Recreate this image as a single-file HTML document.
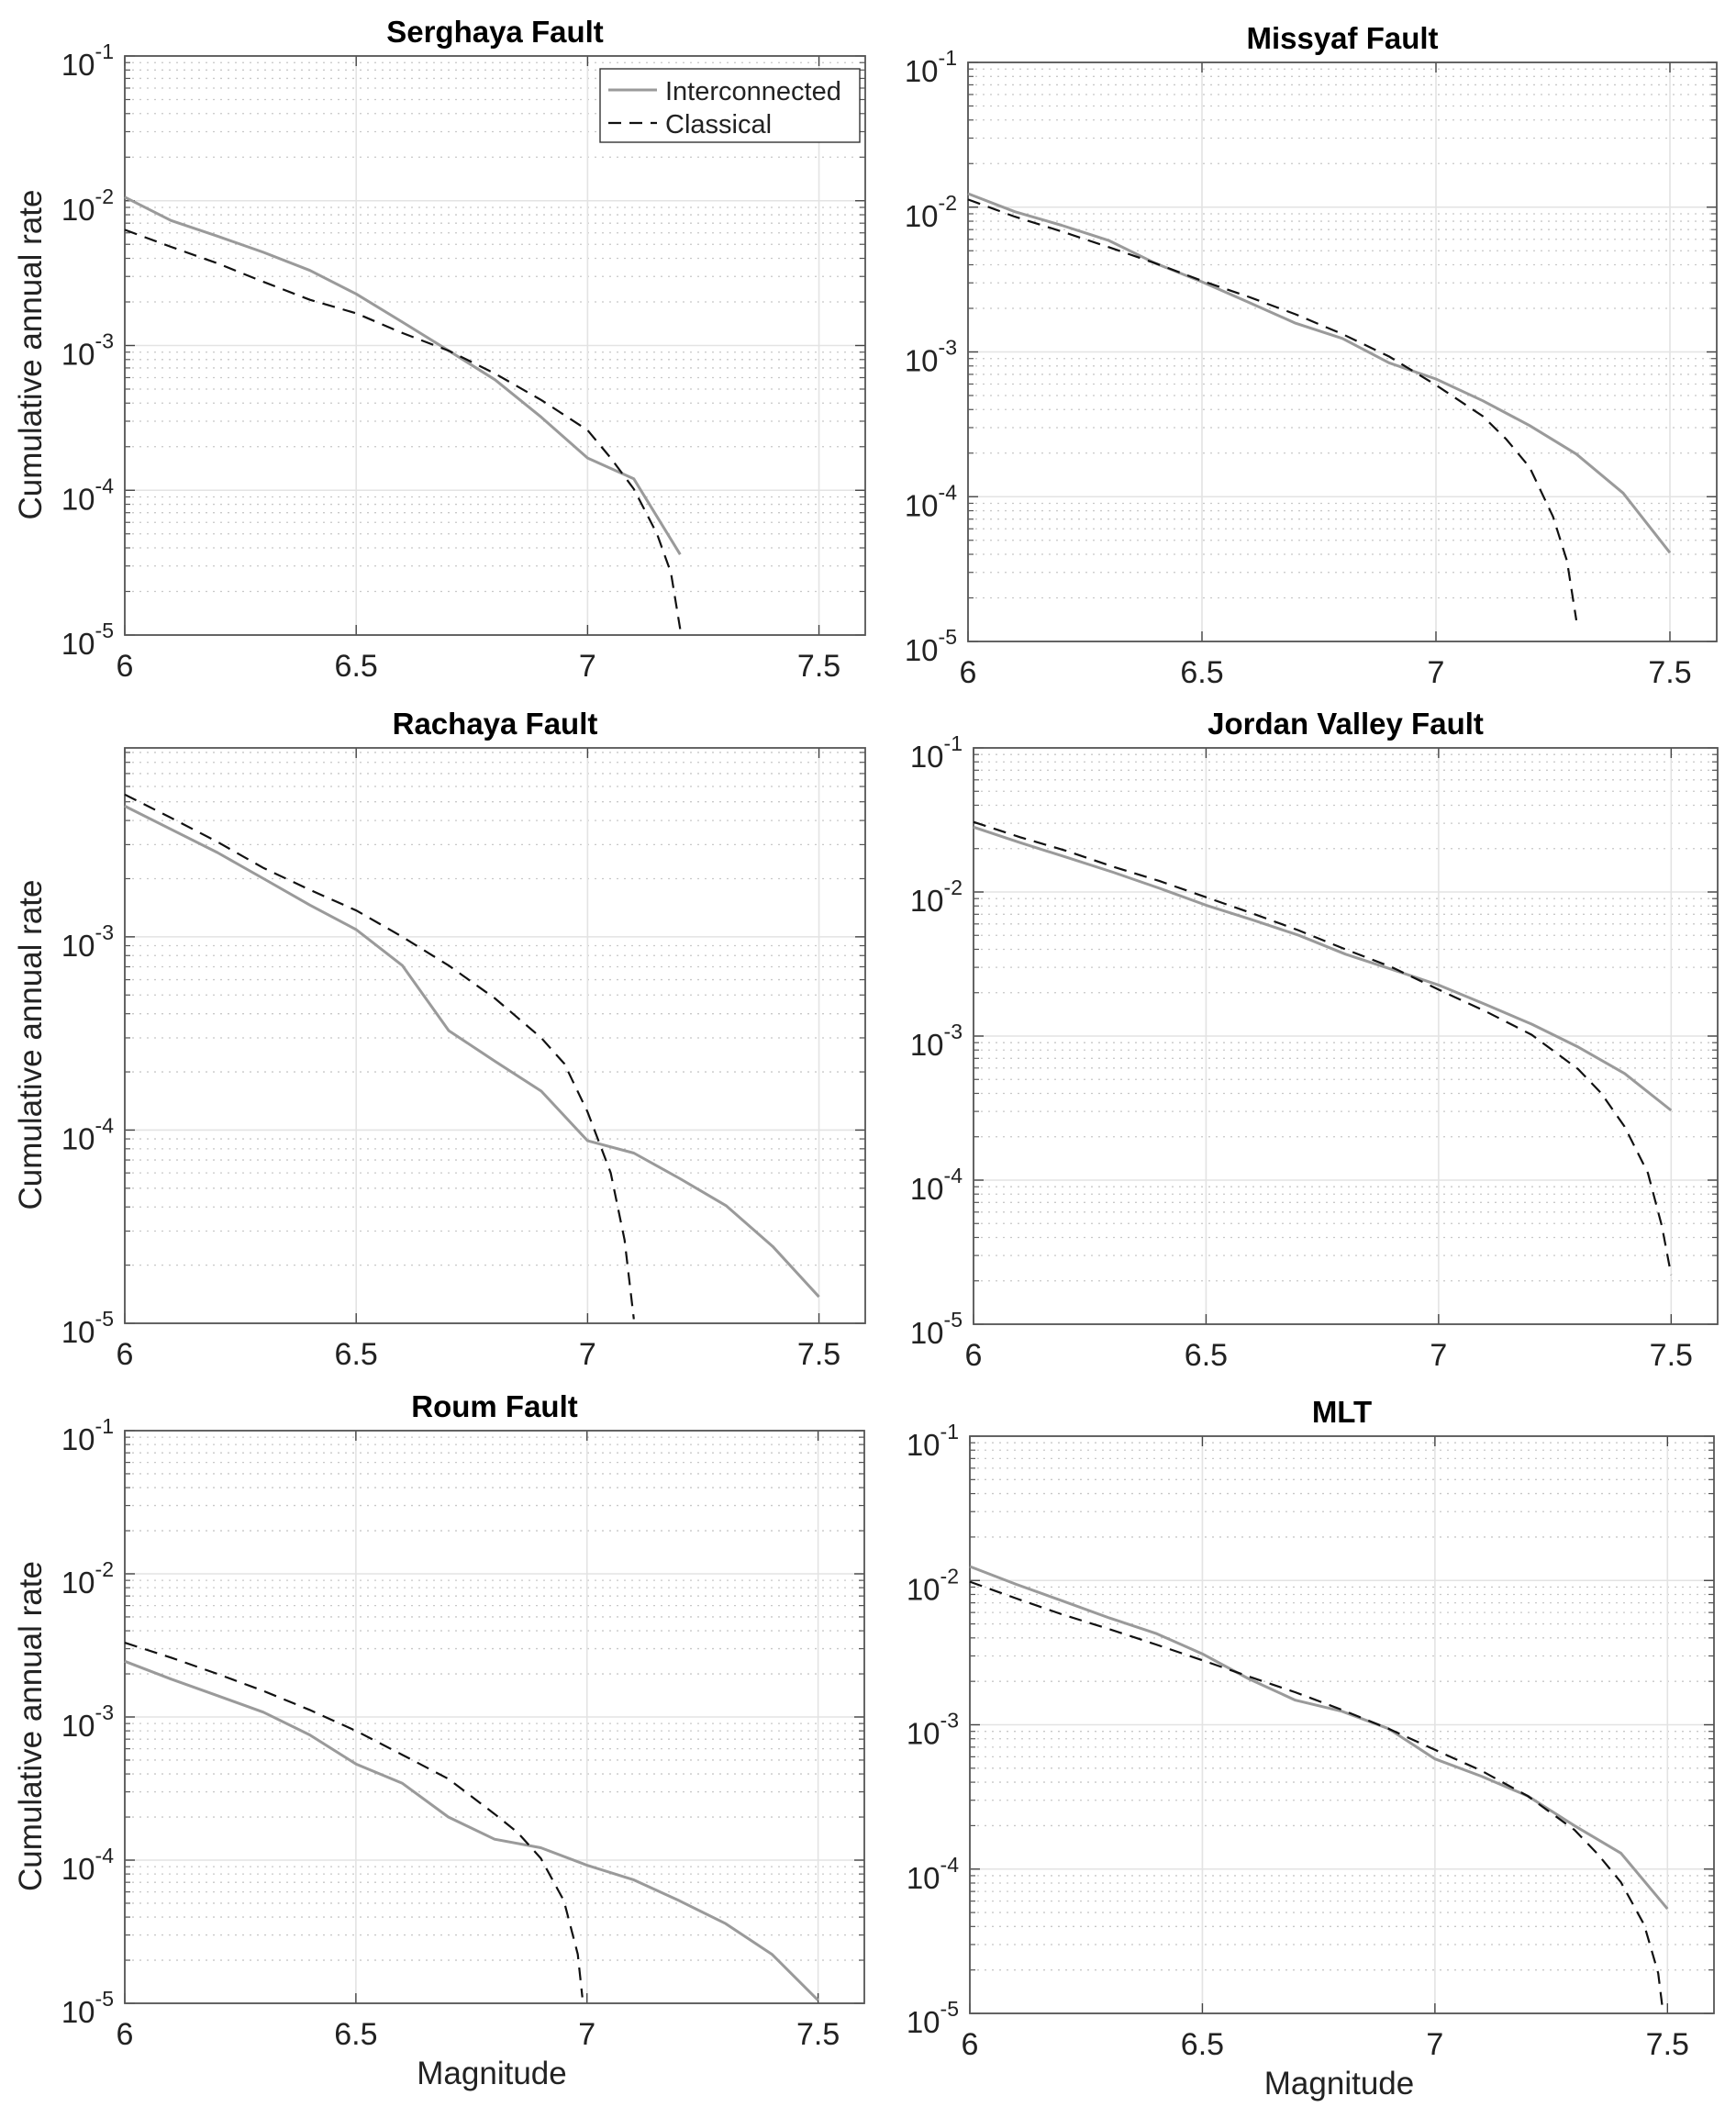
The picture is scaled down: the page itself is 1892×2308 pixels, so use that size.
<!DOCTYPE html>
<html><head><meta charset="utf-8">
<style>
html,body{margin:0;padding:0;background:#fff;}
svg{display:block;font-family:"Liberation Sans",Arial,sans-serif;}
</style></head>
<body>
<svg id="fig" width="1892" height="2308" viewBox="0 0 1892 2308" xmlns="http://www.w3.org/2000/svg"></svg>
<script>
// ---- data ----
const serghayaIntM = [6,6.1,6.2,6.3,6.4,6.5,6.6,6.7,6.8,6.9,7.0,7.1,7.2];
const serghayaIntR = [1.06e-2,7.3e-3,5.7e-3,4.4e-3,3.3e-3,2.27e-3,1.45e-3,9.2e-4,5.8e-4,3.2e-4,1.67e-4,1.2e-4,3.6e-5];
const serghayaClsM = [6,6.1,6.2,6.3,6.4,6.5,6.6,6.7,6.8,6.9,7.0,7.05,7.1,7.15,7.18,7.2];
const serghayaClsR = [6.3e-3,4.8e-3,3.7e-3,2.75e-3,2.07e-3,1.67e-3,1.22e-3,9.2e-4,6.4e-4,4.2e-4,2.6e-4,1.67e-4,1.02e-4,5e-5,2.7e-5,1.1e-5];

const missyafIntM = [6,6.1,6.2,6.3,6.4,6.5,6.6,6.7,6.8,6.9,7.0,7.1,7.2,7.3,7.4,7.5];
const missyafIntR = [1.24e-2,9.3e-3,7.5e-3,5.9e-3,4.1e-3,3.05e-3,2.2e-3,1.58e-3,1.24e-3,8.4e-4,6.5e-4,4.6e-4,3.1e-4,1.97e-4,1.06e-4,4.1e-5];
const missyafClsM = [6,6.1,6.2,6.3,6.4,6.5,6.6,6.7,6.8,6.9,7.0,7.1,7.15,7.2,7.25,7.28,7.3];
const missyafClsR = [1.13e-2,8.6e-3,6.8e-3,5.3e-3,4.1e-3,3.1e-3,2.4e-3,1.82e-3,1.33e-3,9.3e-4,5.9e-4,3.6e-4,2.5e-4,1.6e-4,7.3e-5,3.6e-5,1.4e-5];

const rachayaIntM = [6,6.1,6.2,6.3,6.4,6.5,6.6,6.7,6.8,6.9,7.0,7.1,7.2,7.3,7.4,7.5];
const rachayaIntR = [4.75e-3,3.6e-3,2.73e-3,2.0e-3,1.46e-3,1.09e-3,7.1e-4,3.27e-4,2.27e-4,1.59e-4,8.8e-5,7.6e-5,5.6e-5,4.05e-5,2.5e-5,1.37e-5];
const rachayaClsM = [6,6.1,6.2,6.3,6.4,6.5,6.6,6.7,6.8,6.9,6.95,7.0,7.05,7.08,7.1];
const rachayaClsR = [5.45e-3,4.13e-3,3.1e-3,2.27e-3,1.75e-3,1.37e-3,1.0e-3,7.1e-4,4.8e-4,3.0e-4,2.2e-4,1.24e-4,6e-5,2.7e-5,1.05e-5];

const jordanIntM = [6,6.1,6.2,6.3,6.4,6.5,6.6,6.7,6.8,6.9,7.0,7.1,7.2,7.3,7.4,7.5];
const jordanIntR = [2.82e-2,2.2e-2,1.74e-2,1.37e-2,1.06e-2,8.1e-3,6.4e-3,5.0e-3,3.7e-3,2.9e-3,2.26e-3,1.66e-3,1.21e-3,8.4e-4,5.5e-4,3.05e-4];
const jordanClsM = [6,6.1,6.2,6.3,6.4,6.5,6.6,6.7,6.8,6.9,7.0,7.1,7.2,7.3,7.35,7.4,7.45,7.48,7.5];
const jordanClsR = [3.06e-2,2.4e-2,1.93e-2,1.5e-2,1.19e-2,9.2e-3,7.1e-3,5.4e-3,4.0e-3,3.0e-3,2.1e-3,1.49e-3,1.02e-3,5.9e-4,4.0e-4,2.35e-4,1.12e-4,4.8e-5,2.2e-5];

const roumIntM = [6,6.1,6.2,6.3,6.4,6.5,6.6,6.7,6.8,6.9,7.0,7.1,7.2,7.3,7.4,7.5];
const roumIntR = [2.45e-3,1.84e-3,1.41e-3,1.08e-3,7.5e-4,4.7e-4,3.45e-4,2.0e-4,1.4e-4,1.22e-4,9.2e-5,7.3e-5,5.2e-5,3.6e-5,2.2e-5,1.05e-5];
const roumClsM = [6,6.1,6.2,6.3,6.4,6.5,6.6,6.7,6.8,6.85,6.9,6.95,6.98,6.99];
const roumClsR = [3.3e-3,2.6e-3,2.0e-3,1.52e-3,1.12e-3,8e-4,5.45e-4,3.7e-4,2.1e-4,1.56e-4,1.03e-4,5.2e-5,2.2e-5,1.1e-5];

const mltIntM = [6,6.1,6.2,6.3,6.4,6.5,6.6,6.7,6.8,6.9,7.0,7.1,7.2,7.3,7.4,7.5];
const mltIntR = [1.25e-2,9.4e-3,7.2e-3,5.5e-3,4.3e-3,3.1e-3,2.08e-3,1.48e-3,1.24e-3,9.4e-4,5.8e-4,4.4e-4,3.2e-4,2.0e-4,1.29e-4,5.3e-5];
const mltClsM = [6,6.1,6.2,6.3,6.4,6.5,6.6,6.7,6.8,6.9,7.0,7.1,7.2,7.3,7.35,7.4,7.45,7.48,7.49];
const mltClsR = [9.8e-3,7.5e-3,5.8e-3,4.6e-3,3.6e-3,2.8e-3,2.16e-3,1.68e-3,1.27e-3,9.4e-4,6.7e-4,4.8e-4,3.2e-4,1.87e-4,1.27e-4,8.1e-5,4.1e-5,1.9e-5,1.05e-5];

const xTicks = [6, 6.5, 7, 7.5];
const xTickLabels = ["6", "6.5", "7", "7.5"];
const legendLabels = ["Interconnected", "Classical"];

const panels = [
 {name:"serghaya", title:"Serghaya Fault", L:136,R:943,T:61,B:692, ymax:1e-1, iM:serghayaIntM,iR:serghayaIntR,cM:serghayaClsM,cR:serghayaClsR, ylab:true, xlab:false, legend:true},
 {name:"missyaf", title:"Missyaf Fault", L:1055,R:1871,T:68,B:699, ymax:1e-1, iM:missyafIntM,iR:missyafIntR,cM:missyafClsM,cR:missyafClsR},
 {name:"rachaya", title:"Rachaya Fault", L:136,R:943,T:815,B:1442, ymax:9.5e-3, iM:rachayaIntM,iR:rachayaIntR,cM:rachayaClsM,cR:rachayaClsR, ylab:true},
 {name:"jordan-valley", title:"Jordan Valley Fault", L:1061,R:1872,T:815,B:1443, ymax:1e-1, iM:jordanIntM,iR:jordanIntR,cM:jordanClsM,cR:jordanClsR},
 {name:"roum", title:"Roum Fault", L:136,R:942,T:1559,B:2183, ymax:1e-1, iM:roumIntM,iR:roumIntR,cM:roumClsM,cR:roumClsR, ylab:true, xlab:true},
 {name:"mlt", title:"MLT", L:1057,R:1868,T:1565,B:2194, ymax:1e-1, iM:mltIntM,iR:mltIntR,cM:mltClsM,cR:mltClsR, xlab:true}
];

const NS="http://www.w3.org/2000/svg";
const svg=document.getElementById('fig');
function mk(tag, attrs, parent){
  const e=document.createElementNS(NS,tag);
  for(const k in attrs) e.setAttribute(k,attrs[k]);
  (parent||svg).appendChild(e);
  return e;
}

panels.forEach(p=>{
  const g=mk('g',{});
  
  
  const ymin=1e-5, xmin=6, xmax=7.6;
  const lmin=Math.log10(ymin), lmax=Math.log10(p.ymax);
  const X=m=>p.L+(m-xmin)/(xmax-xmin)*(p.R-p.L);
  const Y=v=>p.B-(Math.log10(v)-lmin)/(lmax-lmin)*(p.B-p.T);

  for(let d=-5; d<=-1; d++){
    for(let k=2;k<=9;k++){
      const v=k*Math.pow(10,d);
      if(v>=p.ymax) continue;
      const y=Y(v);
      const l=mk('line',{x1:p.L,x2:p.R,y1:y,y2:y,stroke:'#c8c8c8','stroke-width':1.3,'stroke-dasharray':'2 6'},g);
      
      
      mk('line',{x1:p.L,x2:p.L+6,y1:y,y2:y,stroke:'#555','stroke-width':1.2},g);
      mk('line',{x1:p.R,x2:p.R-6,y1:y,y2:y,stroke:'#555','stroke-width':1.2},g);
    }
  }
  for(let d=-5; d<=-1; d++){
    const v=Math.pow(10,d);
    if(v>p.ymax*1.001) continue;
    const y=Y(v);
    const l=mk('line',{x1:p.L,x2:p.R,y1:y,y2:y,stroke:'#e3e3e3','stroke-width':1.6},g);
    
    
    mk('line',{x1:p.L,x2:p.L+11,y1:y,y2:y,stroke:'#444','stroke-width':1.4},g);
    mk('line',{x1:p.R,x2:p.R-11,y1:y,y2:y,stroke:'#444','stroke-width':1.4},g);
    const t=mk('text',{x:p.L-12,y:y+21,'text-anchor':'end','font-size':33,fill:'#222'},g);
    
    
    t.appendChild(document.createTextNode('10'));
    const s=mk('tspan',{dy:-18,'font-size':23},t);
    s.textContent=String(d);
  }
  xTicks.forEach((m,i)=>{
    const x=X(m);
    const l=mk('line',{x1:x,x2:x,y1:p.T,y2:p.B,stroke:'#e3e3e3','stroke-width':1.6},g);
    
    
    mk('line',{x1:x,x2:x,y1:p.B,y2:p.B-11,stroke:'#444','stroke-width':1.4},g);
    mk('line',{x1:x,x2:x,y1:p.T,y2:p.T+11,stroke:'#444','stroke-width':1.4},g);
    const t=mk('text',{x:x,y:p.B+45,'text-anchor':'middle','font-size':34,fill:'#222'},g);
    
    
    t.textContent=xTickLabels[i];
  });
  const box=mk('rect',{x:p.L,y:p.T,width:p.R-p.L,height:p.B-p.T,fill:'none',stroke:'#555','stroke-width':1.8},g);
  
  

  const pts=(M,R)=>M.map((m,i)=>X(m).toFixed(1)+','+Y(R[i]).toFixed(1)).join(' ');
  const li=mk('polyline',{points:pts(p.iM,p.iR),fill:'none',stroke:'#9a9a9a','stroke-width':3,'stroke-linejoin':'round'},g);
  
  
  const lc=mk('polyline',{points:pts(p.cM,p.cR),fill:'none',stroke:'#111','stroke-width':2.2,'stroke-dasharray':'14 9'},g);
  
  

  const tt=mk('text',{x:(p.L+p.R)/2,y:p.T-15,'text-anchor':'middle','font-size':33,'font-weight':'bold',fill:'#000'},g);
  
  
  tt.textContent=p.title;

  if(p.ylab){
    const cy=(p.T+p.B)/2+10;
    const yl=mk('text',{x:0,y:0,transform:'translate(45,'+cy+') rotate(-90)','text-anchor':'middle','font-size':35,fill:'#222'},g);
    
    
    yl.textContent='Cumulative annual rate';
  }
  if(p.xlab){
    const xl=mk('text',{x:(p.L+p.R)/2-3,y:p.B+88,'text-anchor':'middle','font-size':35,fill:'#222'},g);
    
    
    xl.textContent='Magnitude';
  }
  if(p.legend){
    const lg=mk('g',{},g);
    
    
    mk('rect',{x:654,y:75,width:283,height:80,fill:'#fff',stroke:'#333','stroke-width':1.4},lg);
    mk('line',{x1:663,x2:716,y1:98,y2:98,stroke:'#9a9a9a','stroke-width':3},lg);
    mk('line',{x1:663,x2:716,y1:134,y2:134,stroke:'#111','stroke-width':2.2,'stroke-dasharray':'14 9'},lg);
    const e1=mk('text',{x:725,y:109,'font-size':29,fill:'#222'},lg);
    
    
    e1.textContent=legendLabels[0];
    const e2=mk('text',{x:725,y:145,'font-size':29,fill:'#222'},lg);
    
    
    e2.textContent=legendLabels[1];
  }
});
</script>
</body></html>
